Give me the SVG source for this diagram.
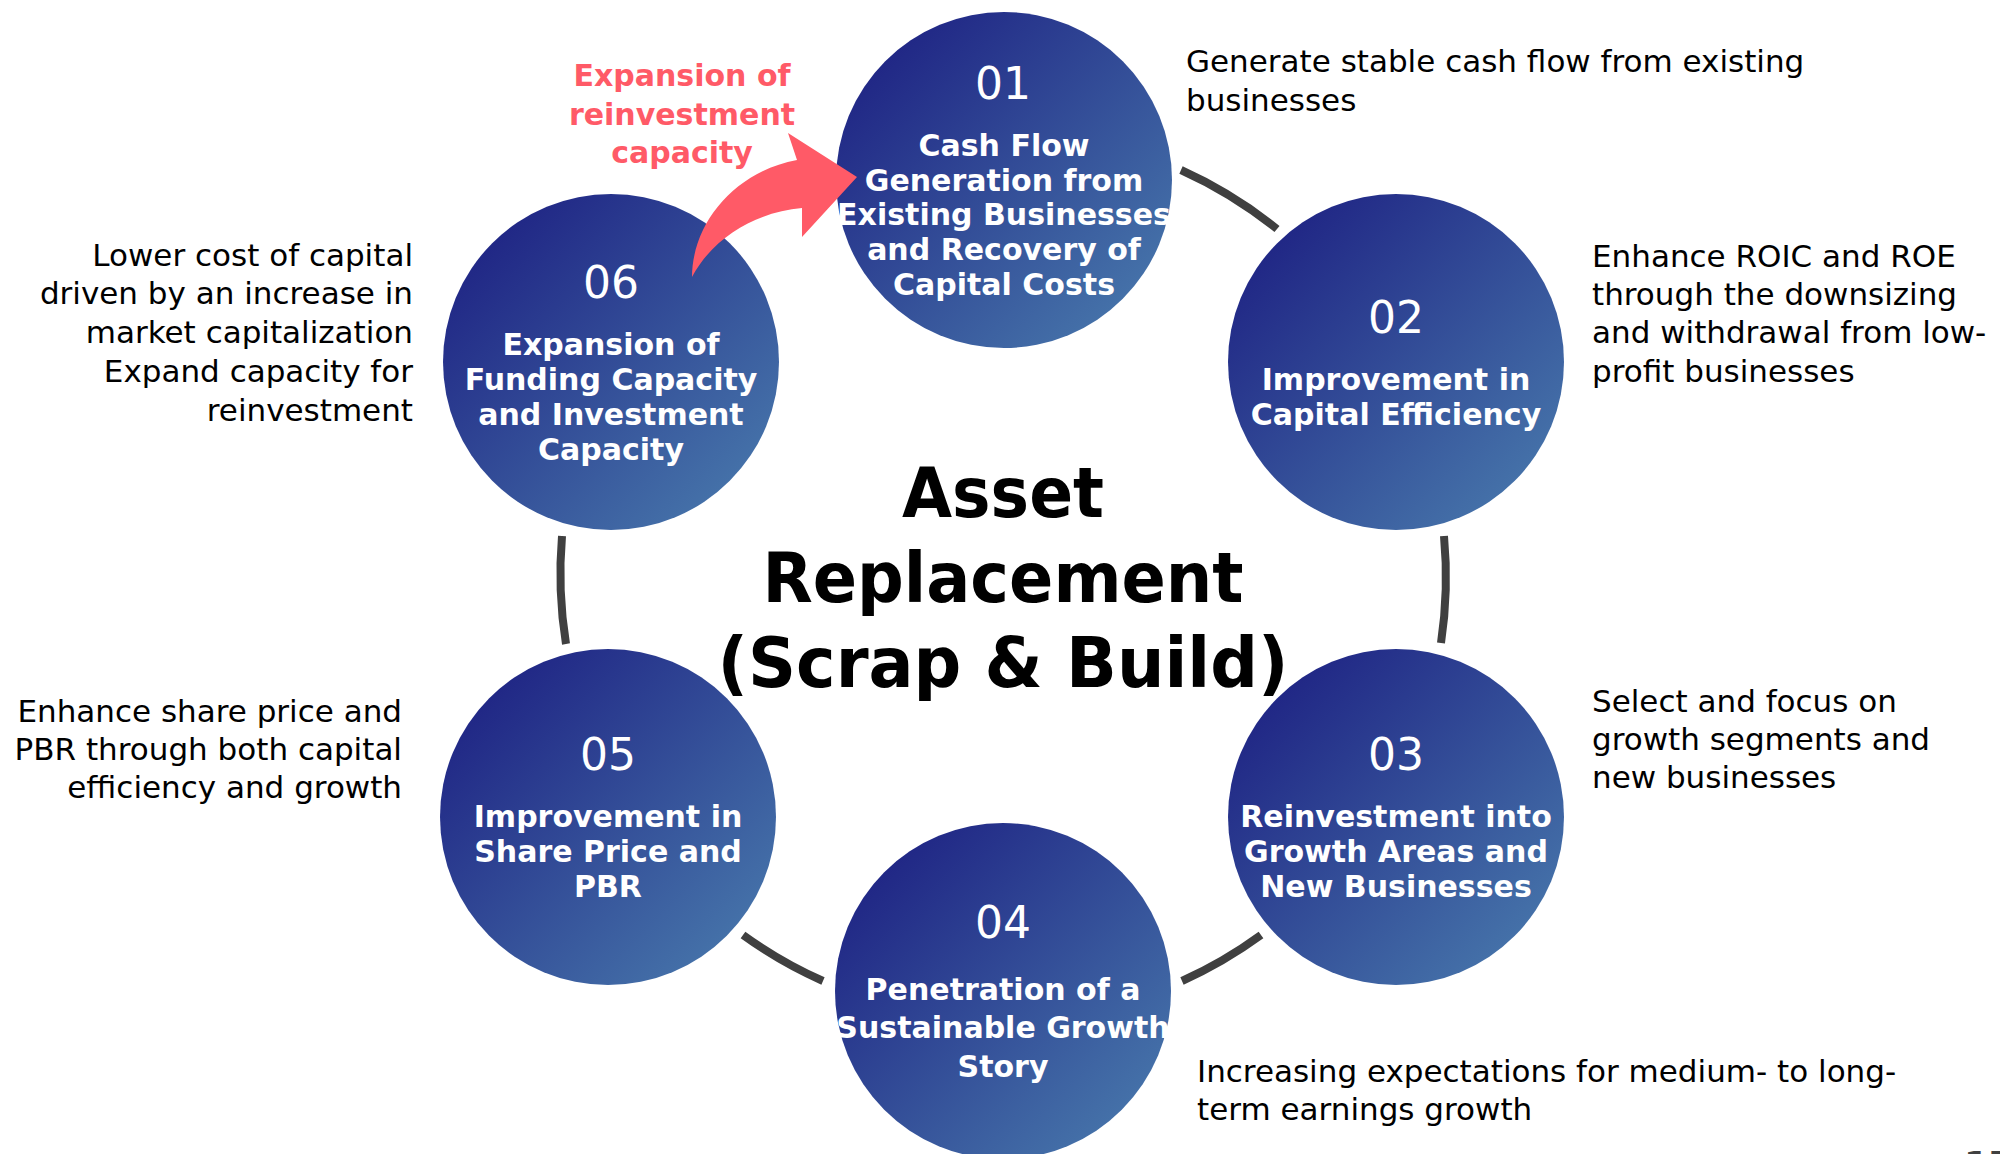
<svg xmlns="http://www.w3.org/2000/svg" width="2000" height="1154" viewBox="0 0 2000 1154">
  <defs>
    <linearGradient id="ballFill" x1="0" y1="0" x2="1" y2="1">
      <stop offset="0.15" stop-color="#212886"/>
      <stop offset="0.85" stop-color="#4470A8"/>
    </linearGradient>
    <style>
      .ball { fill: url(#ballFill); }
      .num { font-family: "DejaVu Sans", "Noto Sans", sans-serif; font-size: 44px; fill: #ffffff; text-anchor: middle; }
      .lbl { font-family: "DejaVu Sans", "Noto Sans", sans-serif; font-weight: bold; font-size: 30px; fill: #ffffff; text-anchor: middle; }
      .desc { font-family: "DejaVu Sans", "Noto Sans", sans-serif; font-size: 31px; fill: #000000; }
      .right { text-anchor: end; }
      .title { font-family: "DejaVu Sans", "Noto Sans", sans-serif; font-weight: bold; font-size: 70px; fill: #000000; text-anchor: middle; }
      .red { font-family: "DejaVu Sans", "Noto Sans", sans-serif; font-weight: bold; font-size: 30px; fill: #FF5A67; text-anchor: middle; }
      .ring { fill: none; stroke: #404040; stroke-width: 8; }
    </style>
  </defs>

  <rect width="2000" height="1154" fill="#ffffff"/>

  <!-- ring segments linking the steps -->
  <g id="connectors">
    <path class="ring" d="M1181,170 A444,444 0 0 1 1277,229"/>
    <path class="ring" d="M1444,536 A444,444 0 0 1 1441,643"/>
    <path class="ring" d="M1261,935 A444,444 0 0 1 1182,981"/>
    <path class="ring" d="M823,981 A444,444 0 0 1 743,935"/>
    <path class="ring" d="M566,644 A444,444 0 0 1 562,536"/>
  </g>

  <!-- centre title -->
  <g id="title">
    <text class="title" x="1003" y="517" textLength="202" lengthAdjust="spacingAndGlyphs">Asset</text>
    <text class="title" x="1003" y="602" textLength="481" lengthAdjust="spacingAndGlyphs">Replacement</text>
    <text class="title" x="1003" y="687" textLength="571" lengthAdjust="spacingAndGlyphs">(Scrap &amp; Build)</text>
  </g>

  <g id="node-01">
    <circle class="ball" cx="1004" cy="180" r="168"/>
    <text class="num" x="1003" y="99">01</text>
    <text class="lbl" x="1004" y="156">Cash Flow</text>
    <text class="lbl" x="1004" y="191">Generation from</text>
    <text class="lbl" x="1004" y="225">Existing Businesses</text>
    <text class="lbl" x="1004" y="260">and Recovery of</text>
    <text class="lbl" x="1004" y="295">Capital Costs</text>
  </g>

  <g id="node-02">
    <circle class="ball" cx="1396" cy="362" r="168"/>
    <text class="num" x="1396" y="333">02</text>
    <text class="lbl" x="1396" y="390">Improvement in</text>
    <text class="lbl" x="1396" y="425">Capital Efficiency</text>
  </g>

  <g id="node-03">
    <circle class="ball" cx="1396" cy="817" r="168"/>
    <text class="num" x="1396" y="770">03</text>
    <text class="lbl" x="1396" y="827">Reinvestment into</text>
    <text class="lbl" x="1396" y="862">Growth Areas and</text>
    <text class="lbl" x="1396" y="897">New Businesses</text>
  </g>

  <g id="node-04">
    <circle class="ball" cx="1003" cy="991" r="168"/>
    <text class="num" x="1003" y="938">04</text>
    <text class="lbl" x="1003" y="1000">Penetration of a</text>
    <text class="lbl" x="1003" y="1038">Sustainable Growth</text>
    <text class="lbl" x="1003" y="1077">Story</text>
  </g>

  <g id="node-05">
    <circle class="ball" cx="608" cy="817" r="168"/>
    <text class="num" x="608" y="770">05</text>
    <text class="lbl" x="608" y="827">Improvement in</text>
    <text class="lbl" x="608" y="862">Share Price and</text>
    <text class="lbl" x="608" y="897">PBR</text>
  </g>

  <g id="node-06">
    <circle class="ball" cx="611" cy="362" r="168"/>
    <text class="num" x="611" y="298">06</text>
    <text class="lbl" x="611" y="355">Expansion of</text>
    <text class="lbl" x="611" y="390">Funding Capacity</text>
    <text class="lbl" x="611" y="425">and Investment</text>
    <text class="lbl" x="611" y="460">Capacity</text>
  </g>

  <!-- feedback arrow from 06 back to 01 -->
  <g id="reinvest-arrow">
    <path d="M692,277 C692,225 733,172 797,160 L788,133 L857,177 L802,237 L802,208 C757,212 714,236 692,277 Z" fill="#FF5A67"/>
    <text class="red" x="682" y="86">Expansion of</text>
    <text class="red" x="682" y="125">reinvestment</text>
    <text class="red" x="682" y="163">capacity</text>
  </g>

  <!-- side notes -->
  <g id="note-01">
    <text class="desc" x="1186" y="72">Generate stable cash flow from existing</text>
    <text class="desc" x="1186" y="111">businesses</text>
  </g>
  <g id="note-02">
    <text class="desc" x="1592" y="267">Enhance ROIC and ROE</text>
    <text class="desc" x="1592" y="305">through the downsizing</text>
    <text class="desc" x="1592" y="343">and withdrawal from low-</text>
    <text class="desc" x="1592" y="382">profit businesses</text>
  </g>
  <g id="note-03">
    <text class="desc" x="1592" y="712">Select and focus on</text>
    <text class="desc" x="1592" y="750">growth segments and</text>
    <text class="desc" x="1592" y="788">new businesses</text>
  </g>
  <g id="note-04">
    <text class="desc" x="1197" y="1082">Increasing expectations for medium- to long-</text>
    <text class="desc" x="1197" y="1120">term earnings growth</text>
  </g>
  <g id="note-05">
    <text class="desc right" x="402" y="722">Enhance share price and</text>
    <text class="desc right" x="402" y="760">PBR through both capital</text>
    <text class="desc right" x="402" y="798">efficiency and growth</text>
  </g>
  <g id="note-06">
    <text class="desc right" x="413" y="266">Lower cost of capital</text>
    <text class="desc right" x="413" y="304">driven by an increase in</text>
    <text class="desc right" x="413" y="343">market capitalization</text>
    <text class="desc right" x="413" y="382">Expand capacity for</text>
    <text class="desc right" x="413" y="421">reinvestment</text>
  </g>

  <!-- page number, mostly below the bottom edge -->
  <text x="1964" y="1177" font-family="DejaVu Sans, sans-serif" font-weight="bold" font-size="36" fill="#404040">17</text>
</svg>
